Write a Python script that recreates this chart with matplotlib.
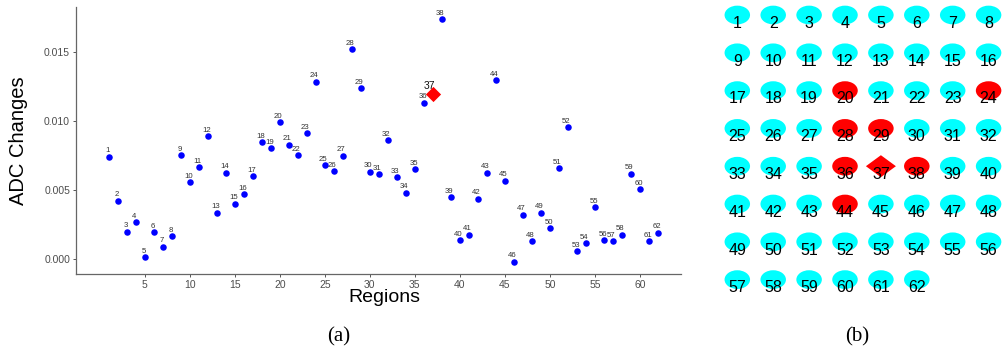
import matplotlib
matplotlib.use('Agg')
import matplotlib.pyplot as plt
import numpy as np
from matplotlib.patches import Ellipse, Polygon

plt.rcParams['font.family'] = ['Liberation Sans', 'DejaVu Sans']

# ADC change per region
regions = list(range(1, 63))
adc = [0.00741, 0.00424, 0.00200, 0.00270, 0.00017, 0.00195, 0.00091, 0.00168,
       0.00751, 0.00559, 0.00665, 0.00889, 0.00337, 0.00626, 0.00402, 0.00470,
       0.00600, 0.00845, 0.00804, 0.00990, 0.00828, 0.00754, 0.00913, 0.01283,
       0.00681, 0.00636, 0.00749, 0.01520, 0.01236, 0.00633, 0.00614, 0.00860,
       0.00592, 0.00481, 0.00652, 0.01131, 0.01192, 0.01736, 0.00448, 0.00139,
       0.00178, 0.00438, 0.00626, 0.01296, 0.00568, -0.00017, 0.00322, 0.00132,
       0.00337, 0.00226, 0.00660, 0.00954, 0.00058, 0.00118, 0.00378, 0.00139,
       0.00132, 0.00178, 0.00619, 0.00508, 0.00132, 0.00192]
target_region = 37
red_regions = [20, 24, 28, 29, 36, 38, 44]

xticks = [5, 10, 15, 20, 25, 30, 35, 40, 45, 50, 55, 60]
yticks = [0.000, 0.005, 0.010, 0.015]

W, H = 1003, 353
fig = plt.figure(figsize=(W / 100, H / 100), dpi=100)

# ---------- (a) scatter ----------
ax = fig.add_axes([0.0761, 0.2246, 0.6032, 0.7564])
reg = np.array(regions)
val = np.array(adc)
mask = reg != target_region
ax.scatter(reg[mask], val[mask], s=22, color='#0000FF', zorder=3, linewidths=0)
ax.scatter(reg[~mask], val[~mask], s=60, marker='D', color='#FF0000', zorder=3, linewidths=0)

for r, v in zip(regions, adc):
    if r == target_region:
        ax.annotate(str(r), (r, v), xytext=(-2.7, 5.8), textcoords='offset points',
                    ha='center', va='center', fontsize=7.5, color='#111111')
    else:
        ax.annotate(str(r), (r, v), xytext=(-1, 4.2), textcoords='offset points',
                    ha='center', va='center', fontsize=5.6, color='#333333')

ax.set_xlim(-2.6, 64.6)
ax.set_ylim(-0.00104, 0.01825)
ax.set_xticks(xticks)
ax.set_yticks(yticks)
ax.set_yticklabels(['%.3f' % t for t in yticks])
ax.tick_params(axis='both', labelsize=7.5, colors='#555555', labelcolor='#4D4D4D',
               length=2.5, width=0.7, pad=2)
for side in ['top', 'right']:
    ax.spines[side].set_visible(False)
for side in ['left', 'bottom']:
    ax.spines[side].set_color('#666666')
    ax.spines[side].set_linewidth(0.9)

fig.text(19 / W, 1 - 141 / H, 'ADC Changes', rotation=90, ha='center', va='center',
         fontsize=14.5, color='black')
fig.text(384 / W, 1 - 297 / H, 'Regions', ha='center', va='center',
         fontsize=14, color='black')

# ---------- (b) region grid ----------
ax2 = fig.add_axes([715 / W, 0, 288 / W, 1])
ax2.set_xlim(715, W)
ax2.set_ylim(H, 0)
ax2.axis('off')

ncols = 8
x0, dx = 737.3, 35.9
y0, dy = 15.0, 37.8
ew, eh = 25.5, 18.7
for r in regions:
    row, col = divmod(r - 1, ncols)
    cx, cy = x0 + col * dx, y0 + row * dy
    if r == target_region:
        hw, hh = 15, 11
        ax2.add_patch(Polygon([[cx - hw, cy], [cx, cy - hh], [cx + hw, cy], [cx, cy + hh]],
                              closed=True, facecolor='#FF0000', edgecolor='none'))
    else:
        color = '#FF0000' if r in red_regions else '#00FFFF'
        ax2.add_patch(Ellipse((cx, cy), ew, eh, facecolor=color, edgecolor='none'))
    ax2.text(cx, cy + 8.3, str(r), ha='center', va='center', fontsize=11.5, color='black')

# ---------- captions ----------
fig.text(339 / W, 1 - 337 / H, '(a)', ha='center', va='center', fontsize=15,
         family='Liberation Serif')
fig.text(857 / W, 1 - 337 / H, '(b)', ha='center', va='center', fontsize=15,
         family='Liberation Serif')

fig.savefig('out.png', dpi=100)
